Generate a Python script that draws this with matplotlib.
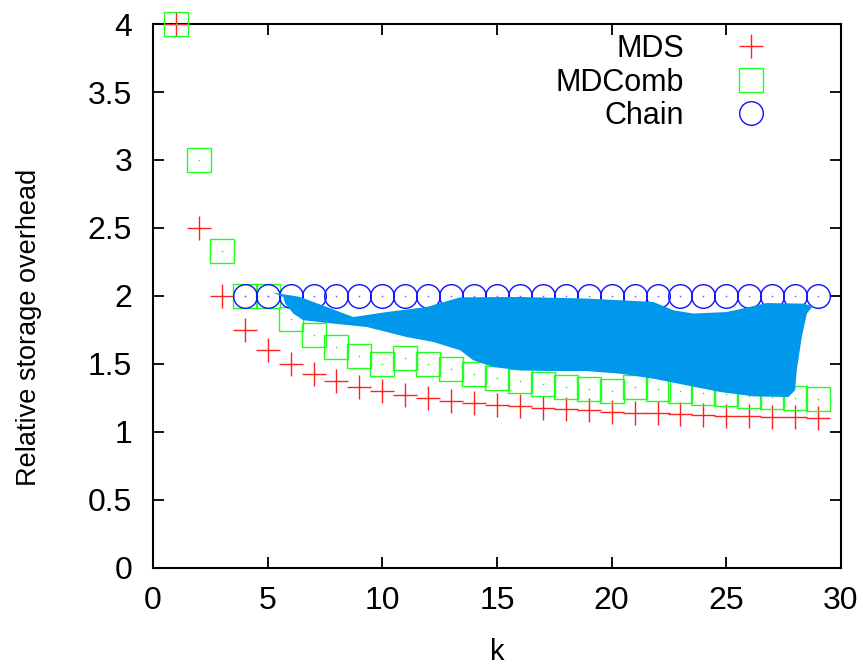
import matplotlib
matplotlib.use("Agg")
import matplotlib.pyplot as plt

# ---------------- data ----------------
k_mds = list(range(1, 30))
mds = [4.0, 2.5, 2.0, 1.75, 1.6, 1.5, 1.43, 1.375, 1.333, 1.3,
       1.273, 1.25, 1.23, 1.214, 1.2, 1.1875, 1.176, 1.167, 1.158, 1.15,
       1.143, 1.136, 1.13, 1.125, 1.12, 1.115, 1.111, 1.107, 1.103]

k_comb = list(range(1, 30))
mdcomb = [4.0, 3.0, 2.333, 2.0, 2.0, 1.833, 1.714, 1.625, 1.556, 1.5,
          1.545, 1.5, 1.462, 1.429, 1.4, 1.375, 1.353, 1.333, 1.318, 1.3,
          1.333, 1.318, 1.304, 1.29, 1.28, 1.267, 1.255, 1.25, 1.24]

k_chain = list(range(4, 30))
chain = [2.0] * len(k_chain)

# outline of the blue blob painted over the plot (k, overhead)
blob_k = [5.22, 6.41, 7.58, 8.74, 10.19, 11.94, 13.39, 16.0, 18.91, 21.82,
          22.69, 23.56, 25.02, 26.76, 28.36, 28.77, 28.51, 28.29, 28.07, 28.0,
          27.7, 26.18, 24.73, 23.28, 21.82, 20.37, 18.91, 17.31, 16.0, 14.84,
          13.97, 13.39, 12.22, 11.06, 10.48, 9.32, 7.86, 6.55, 6.12, 5.76, 5.68]
blob_y = [2.025, 1.993, 1.919, 1.845, 1.882, 1.919, 1.99, 1.993, 1.981, 1.956,
          1.895, 1.871, 1.882, 1.948, 1.944, 1.924, 1.870, 1.698, 1.453, 1.306,
          1.257, 1.262, 1.294, 1.343, 1.392, 1.429, 1.448, 1.448, 1.453, 1.478,
          1.527, 1.601, 1.662, 1.698, 1.723, 1.772, 1.797, 1.822, 1.871, 1.945, 1.993]

x_ticks = [0, 5, 10, 15, 20, 25, 30]
y_ticks = [0, 0.5, 1, 1.5, 2, 2.5, 3, 3.5, 4]
y_tick_labels = ["0", "0.5", "1", "1.5", "2", "2.5", "3", "3.5", "4"]

plt.rcParams['font.family'] = ['Liberation Sans', 'DejaVu Sans']

# ---------------- plot ----------------
fig = plt.figure(figsize=(8.63, 6.65), dpi=100)
ax = fig.add_axes([0.1773, 0.1459, 0.9745 - 0.1773, 0.9639 - 0.1459])

ax.plot(k_mds, mds, linestyle='none', marker='+', ms=17.5, mew=1.0,
        color='#ff2020', clip_on=False, label='MDS', zorder=3)
ax.plot(k_comb, mdcomb, linestyle='none', marker='s', ms=17.5, mew=1.0,
        mfc='none', mec='#20ff20', clip_on=False, label='MDComb', zorder=4)
ax.plot(k_comb, mdcomb, linestyle='none', marker='o', ms=1.2, mew=0,
        color='#20ff20', clip_on=False, zorder=4)
ax.plot(k_chain, chain, linestyle='none', marker='o', ms=17, mew=1.0,
        mfc='none', mec='#1010ff', clip_on=False, label='Chain', zorder=5)
ax.plot(k_chain, chain, linestyle='none', marker='o', ms=1.2, mew=0,
        color='#6060ff', clip_on=False, zorder=5)

ax.fill(blob_k, blob_y, color='#0098ea', lw=0, zorder=6)

ax.set_xlim(0, 30)
ax.set_ylim(0, 4)
ax.set_xticks(x_ticks)
ax.set_yticks(y_ticks)
ax.set_yticklabels(y_tick_labels)
ax.tick_params(direction='in', length=8, width=1.3, labelsize=23,
               top=True, right=True)
ax.tick_params(axis='y', pad=15)
ax.tick_params(axis='x', pad=13)
for s in ax.spines.values():
    s.set_linewidth(1.5)

ax.set_xlabel('k', fontsize=21, labelpad=16)
ax.set_ylabel('Relative storage overhead', fontsize=19.5)
ax.yaxis.set_label_coords(-0.162, 0.443)

leg = ax.legend(loc='upper right', bbox_to_anchor=(0.916, 1.01), frameon=False,
                markerfirst=False, fontsize=22, alignment='right',
                handlelength=1.1, handletextpad=1.65, labelspacing=0.12,
                borderpad=0.0)

fig.savefig('out.png', dpi=100)
